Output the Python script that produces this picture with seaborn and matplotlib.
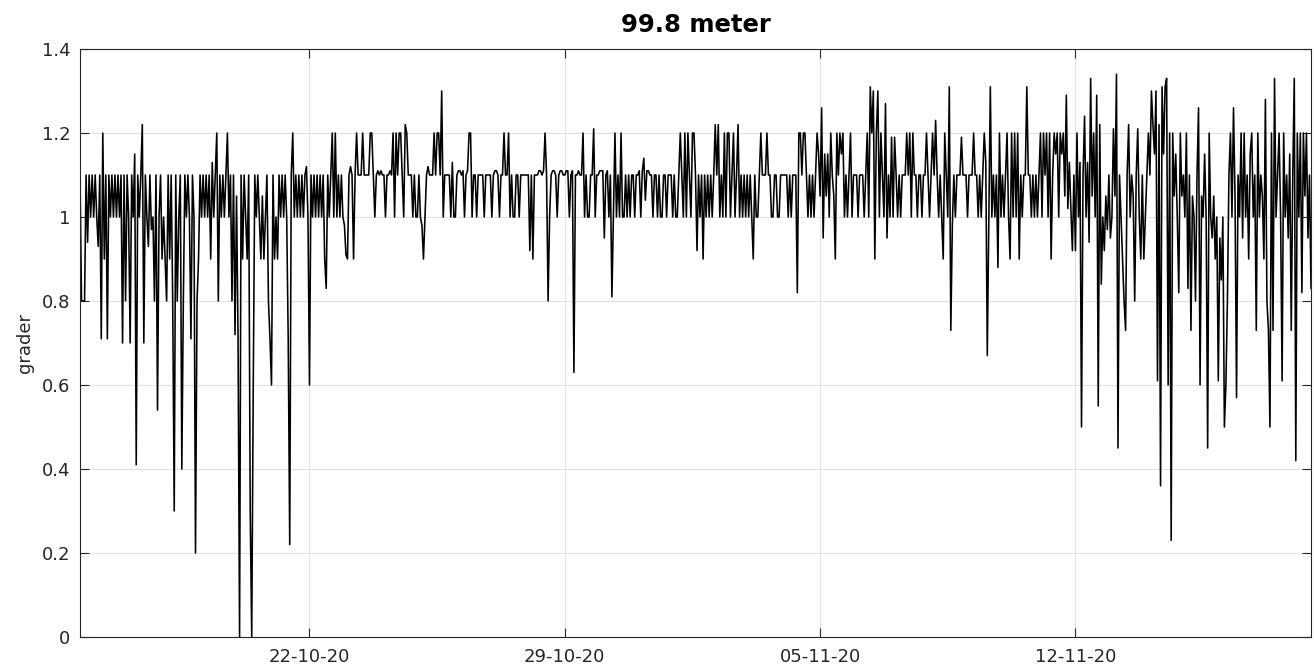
import numpy as np
import pandas as pd
import matplotlib
matplotlib.use("Agg")
import matplotlib.pyplot as plt
import matplotlib.dates as mdates
import seaborn as sns

# ---- hourly readings (grader), one list per day ----
oct15 = [1.1, 0.8, 0.8, 0.8, 1.1, 0.94, 1.1]
oct16 = [1.0, 1.1, 1.0, 1.1, 1.0, 0.93, 1.1, 0.71, 1.2, 0.9, 1.1, 0.71, 1.1, 1.0, 1.1, 1.0, 1.1, 1.0, 1.1, 1.0, 1.1, 0.7, 1.1, 0.8]
oct17 = [1.1, 1.0, 0.7, 1.1, 1.0, 1.15, 0.41, 1.1, 1.0, 1.1, 1.22, 0.7, 1.1, 1.0, 0.93, 1.1, 0.97, 1.0, 0.8, 1.1, 0.54, 1.0, 1.1, 0.9]
oct18 = [1.0, 0.9, 0.8, 1.1, 0.9, 1.1, 0.8, 0.3, 1.1, 0.8, 1.0, 1.1, 0.4, 0.8, 1.1, 1.0, 1.1, 1.0, 0.71, 1.1, 1.0, 0.2, 0.8, 0.9]
oct19 = [1.1, 1.0, 1.1, 1.0, 1.1, 1.0, 1.1, 0.9, 1.13, 1.0, 1.1, 1.2, 0.8, 1.1, 1.0, 1.1, 1.0, 1.1, 1.2, 1.0, 1.1, 0.8, 1.1, 0.72]
oct20 = [1.05, 0.71, 0.0, 1.1, 0.9, 1.1, 1.0, 0.9, 1.1, 0.3, 0.0, 0.6, 1.1, 1.0, 1.1, 1.0, 0.9, 1.05, 0.9, 1.0, 1.1, 0.8, 0.71, 0.6]
oct21 = [1.1, 0.9, 1.0, 0.9, 1.1, 1.0, 1.1, 1.0, 1.1, 1.0, 0.71, 0.22, 1.1, 1.2, 1.0, 1.1, 1.0, 1.1, 1.0, 1.1, 1.0, 1.1, 1.12, 1.0]
oct22 = [0.6, 1.1, 1.0, 1.1, 1.0, 1.1, 1.0, 1.1, 1.0, 1.1, 0.9, 0.83, 1.1, 1.0, 1.1, 1.2, 1.0, 1.2, 1.0, 1.1, 1.0, 1.1, 1.0, 0.98]
oct23 = [0.91, 0.9, 1.1, 1.12, 1.1, 0.9, 1.1, 1.2, 1.1, 1.1, 1.1, 1.2, 1.1, 1.1, 1.1, 1.1, 1.2, 1.2, 1.1, 1.0, 1.1, 1.11, 1.1, 1.11]
oct24 = [1.1, 1.1, 1.0, 1.1, 1.1, 1.11, 1.1, 1.2, 1.0, 1.2, 1.1, 1.2, 1.2, 1.1, 1.0, 1.22, 1.2, 1.1, 1.1, 1.1, 1.0, 1.1, 1.0, 1.0]
oct25 = [1.1, 1.0, 0.98, 0.9, 1.0, 1.1, 1.12, 1.1, 1.1, 1.1, 1.2, 1.1, 1.2, 1.2, 1.1, 1.3, 1.0, 1.1, 1.1, 1.1, 1.1, 1.0, 1.13, 1.0]
oct26 = [1.0, 1.1, 1.11, 1.11, 1.1, 1.11, 1.0, 1.1, 1.11, 1.2, 1.2, 1.0, 1.1, 1.1, 1.0, 1.1, 1.1, 1.1, 1.1, 1.0, 1.1, 1.1, 1.1, 1.1]
oct27 = [1.0, 1.1, 1.11, 1.11, 1.1, 1.0, 1.1, 1.1, 1.2, 1.1, 1.1, 1.2, 1.0, 1.1, 1.0, 1.0, 1.1, 1.1, 1.0, 1.1, 1.1, 1.1, 1.1, 1.1]
oct28 = [1.1, 0.92, 1.1, 0.9, 1.1, 1.1, 1.1, 1.11, 1.11, 1.1, 1.11, 1.2, 1.1, 0.8, 1.0, 1.1, 1.11, 1.11, 1.1, 1.0, 1.1, 1.11, 1.11, 1.1]
oct29 = [1.1, 1.11, 1.11, 1.0, 1.1, 1.11, 0.63, 1.1, 1.1, 1.11, 1.1, 1.1, 1.2, 1.0, 1.1, 1.0, 1.0, 1.1, 1.1, 1.21, 1.0, 1.1, 1.1, 1.11]
oct30 = [1.11, 1.11, 0.95, 1.1, 1.11, 1.0, 1.1, 0.81, 1.0, 1.2, 1.0, 1.1, 1.0, 1.2, 1.0, 1.0, 1.1, 1.0, 1.1, 1.0, 1.1, 1.1, 1.0, 1.1]
oct31 = [1.1, 1.11, 1.0, 1.11, 1.14, 1.04, 1.11, 1.11, 1.1, 1.1, 1.0, 1.1, 1.1, 1.0, 1.1, 1.0, 1.0, 1.1, 1.1, 1.0, 1.1, 1.1, 1.1, 1.0]
nov01 = [1.1, 1.0, 1.0, 1.1, 1.2, 1.1, 1.0, 1.2, 1.0, 1.2, 1.1, 1.0, 1.2, 1.2, 1.1, 0.92, 1.1, 1.0, 1.1, 0.9, 1.1, 1.0, 1.1, 1.0]
nov02 = [1.1, 1.0, 1.1, 1.22, 1.1, 1.22, 1.0, 1.1, 1.0, 1.2, 1.0, 1.2, 1.2, 1.0, 1.1, 1.2, 1.0, 1.1, 1.22, 1.0, 1.1, 1.0, 1.1, 1.0]
nov03 = [1.1, 1.0, 1.1, 1.0, 0.9, 1.1, 1.0, 1.0, 1.1, 1.2, 1.1, 1.1, 1.1, 1.2, 1.1, 1.1, 1.0, 1.0, 1.1, 1.1, 1.0, 1.0, 1.1, 1.1]
nov04 = [1.1, 1.1, 1.1, 1.0, 1.1, 1.0, 1.1, 1.1, 1.1, 0.82, 1.2, 1.2, 1.1, 1.2, 1.2, 1.1, 1.0, 1.1, 1.0, 1.1, 1.0, 1.1, 1.2, 1.15]
nov05 = [1.05, 1.26, 0.95, 1.15, 1.05, 1.15, 1.0, 1.2, 1.1, 1.05, 0.9, 1.2, 1.1, 1.2, 1.15, 1.2, 1.0, 1.1, 1.0, 1.1, 1.2, 1.0, 1.1, 1.1]
nov06 = [1.1, 1.0, 1.1, 1.1, 1.1, 1.0, 1.1, 1.2, 1.0, 1.31, 1.2, 1.3, 0.9, 1.2, 1.3, 1.0, 1.2, 1.1, 1.0, 1.27, 0.95, 1.1, 1.0, 1.19]
nov07 = [1.0, 1.19, 1.1, 1.0, 1.1, 1.0, 1.1, 1.1, 1.1, 1.2, 1.1, 1.2, 1.0, 1.2, 1.1, 1.1, 1.0, 1.1, 1.1, 1.0, 1.1, 1.1, 1.2, 1.1]
nov08 = [1.0, 1.1, 1.2, 1.1, 1.23, 1.1, 1.0, 1.1, 1.0, 0.9, 1.2, 1.1, 1.0, 1.31, 0.73, 0.98, 1.1, 1.0, 1.1, 1.1, 1.1, 1.19, 1.1, 1.1]
nov09 = [1.1, 1.0, 1.1, 1.1, 1.1, 1.2, 1.1, 1.1, 1.0, 1.1, 1.0, 1.1, 1.2, 1.13, 0.67, 1.0, 1.31, 1.0, 1.1, 1.0, 1.1, 0.88, 1.2, 1.0]
nov10 = [1.1, 1.0, 1.1, 1.2, 1.0, 0.9, 1.2, 1.0, 1.2, 1.0, 1.2, 0.9, 1.1, 1.0, 1.1, 1.1, 1.31, 1.1, 1.1, 1.0, 1.1, 1.0, 1.1, 1.0]
nov11 = [1.1, 1.2, 1.0, 1.2, 1.1, 1.2, 1.0, 1.2, 0.9, 1.1, 1.2, 1.15, 1.2, 1.0, 1.2, 1.15, 1.2, 1.05, 1.29, 1.02, 1.13, 1.02, 0.92, 1.1]
nov12 = [0.92, 1.2, 1.0, 1.13, 0.5, 1.1, 1.24, 1.0, 1.13, 0.94, 1.33, 1.05, 1.2, 1.0, 1.29, 0.55, 1.22, 0.84, 1.0, 0.92, 1.05, 0.97, 1.1, 0.95]
nov13 = [1.0, 1.21, 1.05, 1.34, 0.45, 1.1, 1.0, 0.9, 0.8, 0.73, 1.1, 1.22, 1.0, 1.1, 1.05, 0.8, 1.1, 1.21, 1.0, 0.9, 1.1, 0.9, 1.0, 1.1]
nov14 = [1.2, 1.1, 1.3, 1.22, 1.15, 1.3, 0.61, 1.22, 0.36, 1.31, 1.15, 1.31, 1.33, 0.6, 1.2, 0.23, 1.2, 1.05, 1.15, 1.0, 0.82, 1.2, 1.05, 1.1]
nov15 = [1.0, 1.2, 0.83, 1.1, 0.73, 1.05, 1.0, 0.8, 1.1, 1.26, 0.6, 1.05, 1.0, 1.15, 1.0, 0.45, 1.2, 1.0, 0.95, 1.05, 0.9, 1.0, 0.61, 0.95]
nov16 = [0.85, 1.0, 0.5, 0.6, 0.8, 1.1, 1.2, 1.0, 1.26, 1.05, 0.57, 1.1, 1.0, 1.2, 0.95, 1.2, 1.0, 1.1, 0.9, 1.15, 1.2, 1.0, 1.1, 0.73]
nov17 = [1.2, 1.0, 1.1, 1.05, 0.9, 1.28, 0.8, 0.73, 0.5, 1.2, 0.73, 1.33, 1.0, 1.1, 1.2, 1.0, 0.61, 1.2, 1.0, 1.1, 0.95, 1.15, 0.73, 1.1]
nov18 = [1.33, 0.42, 1.2, 1.0, 1.2, 0.82, 1.2, 1.05, 1.2, 0.95, 1.1, 0.83]

first_reading = "2020-10-15 17:00"
tick_dates = ["2020-10-22", "2020-10-29", "2020-11-05", "2020-11-12"]
y_ticks = [0, 0.2, 0.4, 0.6, 0.8, 1.0, 1.2, 1.4]
y_tick_labels = ["0", "0.2", "0.4", "0.6", "0.8", "1", "1.2", "1.4"]
title_text = "99.8 meter"
y_label = "grader"

days = [oct15, oct16, oct17, oct18, oct19, oct20, oct21, oct22, oct23, oct24,
        oct25, oct26, oct27, oct28, oct29, oct30, oct31, nov01, nov02, nov03,
        nov04, nov05, nov06, nov07, nov08, nov09, nov10, nov11, nov12, nov13,
        nov14, nov15, nov16, nov17, nov18]
values = [v for d in days for v in d]
times = pd.date_range(first_reading, periods=len(values), freq="h")
df = pd.DataFrame({"tid": times, "grader": values})

# ---- style ----
sns.set_style("ticks")
plt.rcParams["font.family"] = ["DejaVu Sans"]
axis_grey = "#262626"

W, H = 1314, 671
fig = plt.figure(figsize=(W / 100, H / 100), dpi=100)
ax = fig.add_axes([80 / W, 1 - 637 / H, (1311 - 80) / W, (637 - 49) / H])

sns.lineplot(data=df, x="tid", y="grader", ax=ax, color="black",
             linewidth=1.15, estimator=None)

ax.set_xlim(times[0], times[-1])
ax.set_ylim(0, 1.4)
ax.set_xticks(pd.to_datetime(tick_dates))
ax.xaxis.set_major_formatter(mdates.DateFormatter("%d-%m-%y"))
ax.set_yticks(y_ticks)
ax.set_yticklabels(y_tick_labels)

ax.grid(True, color="#e2e2e2", linewidth=0.8)
ax.set_axisbelow(True)

for s in ax.spines.values():
    s.set_visible(True)
    s.set_color(axis_grey)
    s.set_linewidth(0.8)

ax.tick_params(axis="both", which="major", direction="in", length=6.5,
               width=0.8, color=axis_grey, labelcolor=axis_grey,
               labelsize=13, top=True, right=True)
ax.tick_params(axis="y", pad=7)
ax.tick_params(axis="x", pad=8)

ax.set_xlabel("")
ax.set_ylabel(y_label, fontsize=13, color=axis_grey)
ax.yaxis.set_label_coords(-0.037, 0.5)
ax.set_title(title_text, fontsize=17.5, fontweight="bold", color="black", pad=12)

fig.savefig("out.png", dpi=100)
